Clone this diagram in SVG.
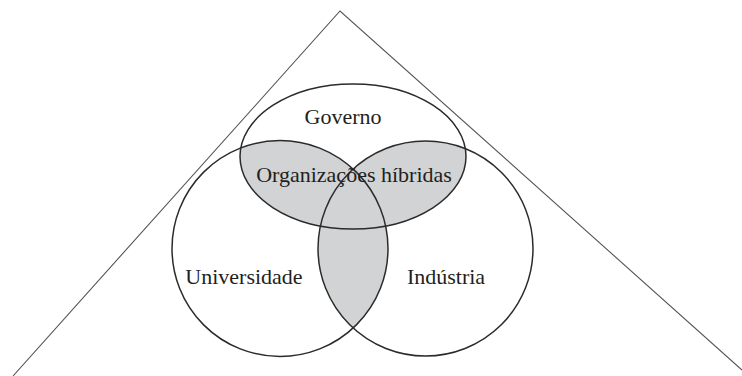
<svg xmlns="http://www.w3.org/2000/svg" width="742" height="376" viewBox="0 0 742 376">
<style>
.ring{fill:none;stroke:#2b2b2b;stroke-width:1.5}
.tri{fill:none;stroke:#555;stroke-width:1.1}
.lbl{font-family:"Liberation Serif","Times New Roman",serif;font-size:22px;fill:#231f20;text-anchor:middle}
.shade{fill:#d1d3d4}
</style>
<defs>
<clipPath id="cGov"><ellipse cx="353" cy="156.5" rx="113" ry="72.5"/></clipPath>
<clipPath id="cUni"><circle cx="280" cy="248.5" r="108"/></clipPath>
<clipPath id="cInd"><circle cx="425.5" cy="248.5" r="107.5"/></clipPath>
</defs>
<rect width="742" height="376" fill="#ffffff"/>
<g id="connectors">
<polyline class="tri" points="13,376 340,11 742,370"/>
</g>
<g id="hybrid">
<g clip-path="url(#cGov)"><circle class="shade" cx="280" cy="248.5" r="108"/></g>
<g clip-path="url(#cGov)"><circle class="shade" cx="425.5" cy="248.5" r="107.5"/></g>
<g clip-path="url(#cUni)"><circle class="shade" cx="425.5" cy="248.5" r="107.5"/></g>
</g>
<g id="governo">
<ellipse class="ring" cx="353" cy="156.5" rx="113" ry="72.5"/>
<text class="lbl" x="343" y="124">Governo</text>
</g>
<g id="universidade">
<circle class="ring" cx="280" cy="248.5" r="108"/>
<text class="lbl" x="244" y="284">Universidade</text>
</g>
<g id="industria">
<circle class="ring" cx="425.5" cy="248.5" r="107.5"/>
<text class="lbl" x="446" y="284">Indústria</text>
</g>
<g id="organizacoes">
<text class="lbl" x="354" y="182">Organizações híbridas</text>
</g>
</svg>
